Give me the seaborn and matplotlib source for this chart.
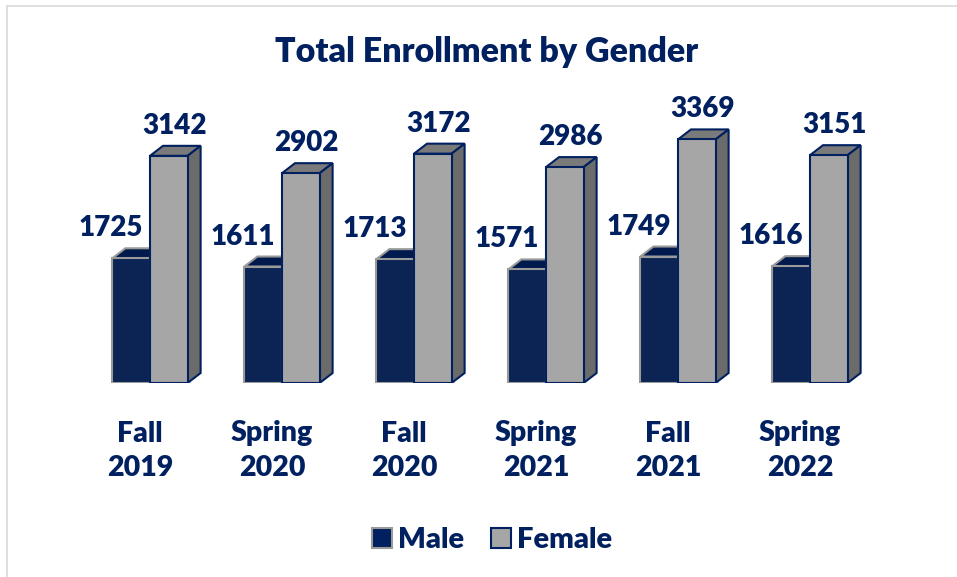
import numpy as np
import pandas as pd
import matplotlib.pyplot as plt
import matplotlib.transforms as mtransforms
from matplotlib.patches import Polygon
from matplotlib.lines import Line2D
import seaborn as sns

# Chart data
terms = ['Fall\n2019', 'Spring\n2020', 'Fall\n2020', 'Spring\n2021', 'Fall\n2021', 'Spring\n2022']
male = [1725, 1611, 1713, 1571, 1749, 1616]
female = [3142, 2902, 3172, 2986, 3369, 3151]
genders = ['Male', 'Female']

navy = '#002060'
gray = '#A6A6A6'

df = pd.DataFrame({
    'term': terms * 2,
    'gender': ['Male'] * len(terms) + ['Female'] * len(terms),
    'count': male + female,
})

sns.set_style('white')
plt.rcParams['font.family'] = ['Lato', 'DejaVu Sans']
WEIGHT = 'heavy'

W, H = 957, 577
fig = plt.figure(figsize=(W / 100, H / 100), dpi=100)
# axes box in pixels: left 84, right 876, bottom (baseline) 383, top 100
ax = fig.add_axes([84 / W, (H - 383) / H, 792 / W, 283 / H])

sns.barplot(data=df, x='term', y='count', hue='gender', hue_order=genders,
            palette={'Male': navy, 'Female': gray}, width=0.57, gap=0,
            ax=ax, legend=False, zorder=3)
ax.set_xlim(-0.5, len(terms) - 0.5)
ax.set_ylim(0, 283 / 0.0723)

for s in ax.spines.values():
    s.set_visible(False)
ax.set_yticks([])
ax.set_xlabel('')
ax.set_ylabel('')
ax.tick_params(axis='x', length=0, pad=27)
for lab in ax.get_xticklabels():
    lab.set_fontsize(20.5)
    lab.set_fontweight(WEIGHT)
    lab.set_color(navy)
    lab.set_linespacing(1.4)
    lab.set_transform(lab.get_transform() + mtransforms.ScaledTranslation(-0.10, 0, fig.dpi_scale_trans))

# fake 3D depth: offset in pixels converted to data units
inv = ax.transData.inverted()
p0 = inv.transform((0, 0))
p1 = inv.transform((13, 10))
dx, dy = p1 - p0

n = len(terms)
bars = ax.patches
male_bars = bars[:n]
female_bars = bars[n:]

face_cols = {'Male': (navy, '#001A4D', '#00163F', '#9A9A9A'),
             'Female': (gray, '#7A7A7A', '#6B6B6B', navy)}

for name, group in (('Male', male_bars), ('Female', female_bars)):
    front, top_c, side_c, edge = face_cols[name]
    for b in group:
        x0, w, h = b.get_x(), b.get_width(), b.get_height()
        x1 = x0 + w
        b.set_edgecolor(edge)
        b.set_linewidth(1.5)
        zo = 2 if name == 'Male' else 4
        b.set_zorder(zo + 0.5)
        top = Polygon([(x0, h), (x0 + dx, h + dy), (x1 + dx, h + dy), (x1, h)],
                      closed=True, facecolor=top_c, edgecolor=edge, lw=1.5, zorder=zo)
        side = Polygon([(x1, 0), (x1 + dx, dy), (x1 + dx, h + dy), (x1, h)],
                       closed=True, facecolor=side_c, edgecolor=edge, lw=1.5, zorder=zo)
        ax.add_patch(top)
        ax.add_patch(side)

# value labels
for b, v in zip(male_bars, male):
    ax.text(b.get_x() + b.get_width(), v, f'{v}', ha='right', va='center',
            fontsize=20, fontweight=WEIGHT, color=navy, zorder=6,
            transform=ax.transData + mtransforms.ScaledTranslation(-0.07, 0.30, fig.dpi_scale_trans))
for b, v in zip(female_bars, female):
    ax.text(b.get_x() + b.get_width() / 2, v, f'{v}', ha='center', va='center',
            fontsize=20, fontweight=WEIGHT, color=navy, zorder=6,
            transform=ax.transData + mtransforms.ScaledTranslation(0.06, 0.30, fig.dpi_scale_trans))

fig.text(487 / W, 1 - 52 / H, 'Total Enrollment by Gender', ha='center', va='center',
         fontsize=24.5, fontweight=WEIGHT, color=navy)

handles = [plt.Rectangle((0, 0), 1, 1, facecolor=navy, edgecolor='#9A9A9A', lw=1.5),
           plt.Rectangle((0, 0), 1, 1, facecolor=gray, edgecolor=navy, lw=1.5)]
leg = fig.legend(handles, genders, loc='center', bbox_to_anchor=(492 / W, 1 - 540 / H),
                 ncol=2, frameon=False, handlelength=0.7, handleheight=0.7,
                 handletextpad=0.2, columnspacing=0.9,
                 prop={'size': 21, 'weight': WEIGHT})
for t in leg.get_texts():
    t.set_color(navy)

# chart border (left and top edges visible)
fig.add_artist(Line2D([6.5 / W, 6.5 / W], [0, 1 - 6 / H], color='#D9D9D9', lw=1.2))
fig.add_artist(Line2D([6.5 / W, 1], [1 - 6 / H, 1 - 6 / H], color='#D9D9D9', lw=1.2))

fig.savefig('out.png', dpi=100, facecolor='white')
